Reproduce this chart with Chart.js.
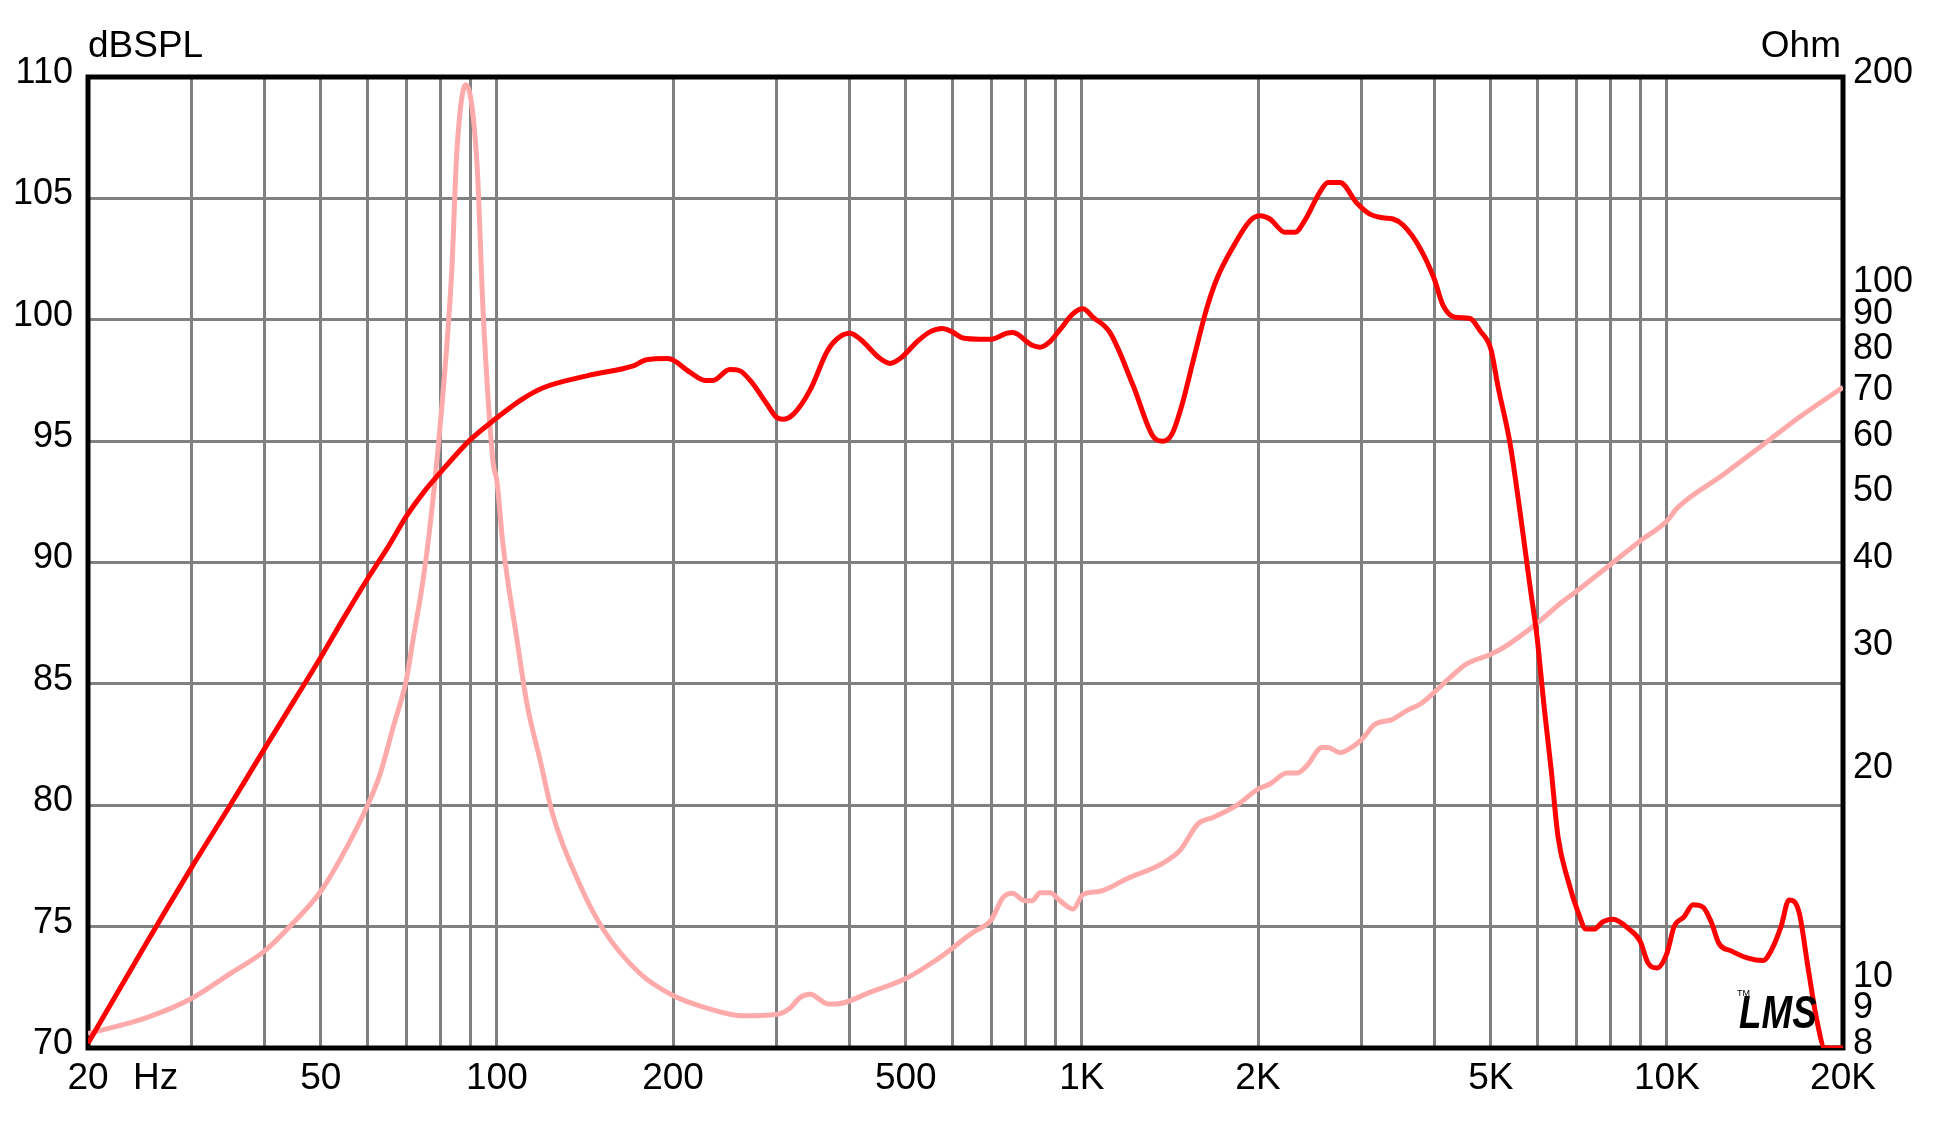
<!DOCTYPE html>
<html>
<head>
<meta charset="utf-8">
<script src="https://cdn.jsdelivr.net/npm/chart.js@4"></script>
<style>
  html, body { margin: 0; padding: 0; background: #ffffff; }
  #wrap { width: 1946px; height: 1132px; }
</style>
</head>
<body>
<div id="wrap"><canvas id="c" width="1946" height="1132"></canvas></div>
<script>
// ---- data ----
const splFreq = [20,25,30,35,40,45,50,55,60,65,70,75,80,90,100,110,120,143,171,180,196,214,227,234,250,260,271,290,300,308,321,343,367,381,401,418,452,470,489,523,550,577,600,626,670,700,745,762,822,848,882,918,966,1004,1045,1117,1223,1323,1376,1426,1483,1549,1636,1702,1813,1937,2016,2096,2224,2313,2406,2553,2635,2761,2953,3108,3271,3404,3540,3784,4000,4142,4342,4606,4792,5000,5144,5394,5609,5836,6000,6165,6339,6515,6777,7049,7274,7507,7775,8085,8614,9000,9284,9618,10000,10287,10699,11086,11531,11902,12278,12871,13763,14600,15065,15670,16172,16820,17430,18060,18620,20000];
const splValues = [70.2,74.2,77.4,80.0,82.3,84.3,86.1,87.8,89.3,90.6,91.9,92.9,93.7,95.05,95.96,96.7,97.2,97.7,98.1,98.35,98.4,97.83,97.5,97.5,97.95,97.9,97.5,96.5,96.0,95.9,96.1,97.1,98.7,99.2,99.44,99.2,98.4,98.2,98.4,99.1,99.5,99.64,99.5,99.25,99.2,99.2,99.45,99.47,98.95,98.87,99.1,99.6,100.25,100.45,100.1,99.47,97.3,95.2,95.0,95.3,96.5,98.3,100.5,101.7,103.0,104.07,104.28,104.15,103.6,103.6,104.1,105.27,105.65,105.65,104.8,104.35,104.2,104.15,103.9,102.95,101.7,100.6,100.1,100.05,99.55,98.8,97.25,94.9,92.1,89.0,86.9,84.1,81.5,78.7,76.9,75.6,74.9,74.9,75.2,75.3,74.9,74.4,73.5,73.3,73.9,75.0,75.4,75.9,75.8,75.2,74.3,74.0,73.7,73.6,74.0,75.0,76.1,75.6,73.3,71.1,70.0,70.0];

const impFreq = [20,25.2,30,35,40,44.3,50,55.4,60,63.1,66.5,70,71.9,74.7,76.9,79.3,82.2,83.8,85.4,88.5,92.5,94.7,98.5,100,102.4,108.2,112.6,118.5,124.7,138.7,151.9,175.6,200,228.6,263.5,300,317,330,343,368,381,434,500,556,600,626,651,700,733,760,800,822,848,882,918,966,1004,1074,1194,1376,1471,1579,1675,1842,2000,2096,2242,2331,2425,2574,2635,2761,2873,3000,3170,3389,3596,3784,4000,4257,4553,5000,5330,6000,6592,7000,8000,9000,10000,10410,12474,15065,16953,20000];
const impValues = [8.39,8.85,9.42,10.24,11.02,11.98,13.45,15.57,17.83,19.8,23.2,27.1,31.0,37.5,45.3,58.2,83.1,106.8,155.6,195,149.2,92.3,55.8,52.4,42.5,31.0,25.0,20.8,17.3,13.73,11.86,10.24,9.52,9.13,8.90,8.94,9.13,9.46,9.56,9.26,9.26,9.62,10.07,10.63,11.13,11.45,11.73,12.24,13.17,13.36,13.03,13.03,13.38,13.38,13.03,12.68,13.3,13.45,14.02,14.77,15.4,16.82,17.18,17.9,18.87,19.19,19.9,19.9,20.4,21.67,21.67,21.3,21.6,22.2,23.4,23.76,24.5,25.0,26.0,27.3,28.6,29.5,30.4,32.7,35.0,36.34,39.7,42.96,45.9,47.9,53.5,60.3,65.0,71.5];

// ---- axes / ticks ----
const xGridValues = [20,30,40,50,60,70,80,90,100,200,300,400,500,600,700,800,900,1000,2000,3000,4000,5000,6000,7000,8000,9000,10000,20000];
const xLabelValues = [20,50,100,200,500,1000,2000,5000,10000,20000];
const xLabelTexts  = ['20','50','100','200','500','1K','2K','5K','10K','20K'];
const ohmTickValues = [8,9,10,20,30,40,50,60,70,80,90,100,200];

const FONT = 'Liberation Sans, Arial, Helvetica, sans-serif';
const GRID = '#808080';

function zip(xs, ys) { return xs.map((x, i) => ({ x: x, y: ys[i] })); }

const framePlugin = {
  id: 'frame',
  beforeDatasetsDraw(chart) {
    const { ctx, chartArea: a } = chart;
    ctx.save();
    ctx.strokeStyle = '#000000';
    ctx.lineWidth = 5;
    ctx.strokeRect(a.left, a.top, a.right - a.left, a.bottom - a.top);
    ctx.restore();
  },
  afterDraw(chart) {
    const { ctx, chartArea: a } = chart;
    const xs = chart.scales.x;
    ctx.save();
    ctx.fillStyle = '#000000';
    ctx.font = '37px ' + FONT;
    ctx.textBaseline = 'alphabetic';
    ctx.textAlign = 'left';
    ctx.fillText('dBSPL', a.left, a.top - 20);
    ctx.textAlign = 'right';
    ctx.fillText('Ohm', a.right - 2, a.top - 20);
    ctx.textAlign = 'left';
    ctx.fillText('Hz', xs.getPixelForValue(20) + 45, a.bottom + 41);
    // LMS mark
    ctx.save();
    ctx.translate(a.right - 104, a.bottom - 20);
    ctx.scale(0.8, 1);
    ctx.font = 'italic bold 46px ' + FONT;
    ctx.fillText('LMS', 0, 0);
    ctx.restore();
    ctx.font = '9px ' + FONT;
    ctx.fillText('TM', a.right - 106, a.bottom - 52);
    ctx.restore();
  }
};

new Chart(document.getElementById('c'), {
  type: 'line',
  data: {
    datasets: [
      {
        label: 'SPL',
        data: zip(splFreq, splValues),
        yAxisID: 'y',
        borderColor: '#ff0000',
        borderWidth: 5,
        pointRadius: 0,
        cubicInterpolationMode: 'monotone',
        fill: false
      },
      {
        label: 'Impedance',
        data: zip(impFreq, impValues),
        yAxisID: 'y2',
        borderColor: '#ffaaaa',
        borderWidth: 5,
        pointRadius: 0,
        cubicInterpolationMode: 'monotone',
        fill: false
      }
    ]
  },
  options: {
    responsive: false,
    devicePixelRatio: 1,
    animation: false,
    layout: { padding: { top: 77, left: 0, right: 0, bottom: 0 } },
    plugins: { legend: { display: false }, tooltip: { enabled: false } },
    scales: {
      x: {
        type: 'logarithmic',
        min: 20, max: 20000,
        afterBuildTicks(scale) { scale.ticks = xGridValues.map(v => ({ value: v })); },
        afterFit(scale) { scale.height = 84; },
        grid: { color: GRID, lineWidth: 3, drawTicks: false },
        border: { display: false },
        ticks: {
          autoSkip: false, maxRotation: 0, minRotation: 0,
          padding: 9,
          color: '#000000',
          font: { family: FONT, size: 37 },
          callback(value) {
            const i = xLabelValues.indexOf(value);
            return i >= 0 ? xLabelTexts[i] : '';
          }
        }
      },
      y: {
        type: 'linear',
        position: 'left',
        min: 70, max: 110,
        afterFit(scale) { scale.width = 88; },
        grid: { color: GRID, lineWidth: 3, drawTicks: false },
        border: { display: false },
        ticks: {
          stepSize: 5,
          padding: 15,
          labelOffset: -4,
          color: '#000000',
          font: { family: FONT, size: 36 }
        }
      },
      y2: {
        type: 'logarithmic',
        position: 'right',
        min: 8, max: 200,
        afterBuildTicks(scale) { scale.ticks = ohmTickValues.map(v => ({ value: v })); },
        afterFit(scale) { scale.width = 103; },
        grid: { display: false, drawTicks: false },
        border: { display: false },
        ticks: {
          autoSkip: false,
          padding: 10,
          labelOffset: -4,
          color: '#000000',
          font: { family: FONT, size: 36 },
          callback(value) { return String(value); }
        }
      }
    }
  },
  plugins: [framePlugin]
});
</script>
</body>
</html>
